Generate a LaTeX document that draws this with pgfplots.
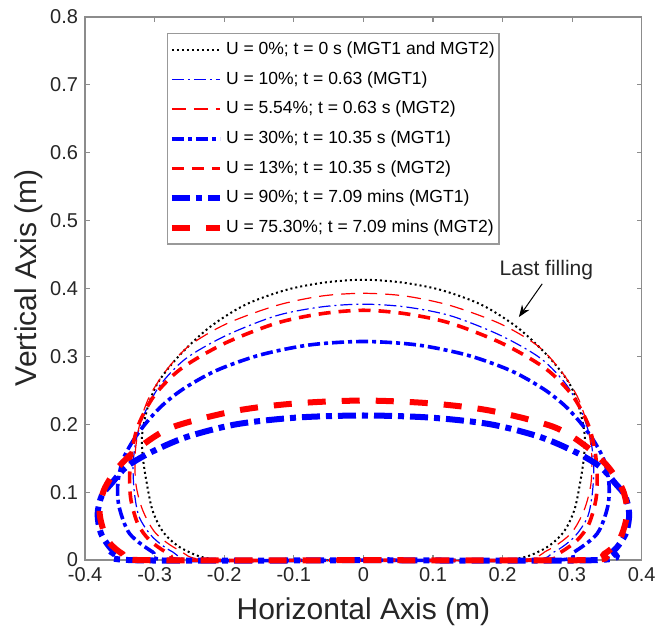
\documentclass[border=0pt]{standalone}
\usepackage{fontspec}
\setmainfont{Liberation Sans}
\usepackage{pgfplots}
\pgfplotsset{compat=1.18}
\usetikzlibrary{arrows.meta}

\begin{document}
\begin{tikzpicture}
\begin{axis}[
    scale only axis,
    width=278pt, height=271.25pt,
    xmin=-0.4, xmax=0.4, ymin=0, ymax=0.8,
    clip=false,
    xtick={-0.4,-0.3,-0.2,-0.1,0,0.1,0.2,0.3,0.4},
    ytick={0,0.1,0.2,0.3,0.4,0.5,0.6,0.7,0.8},
    tick align=inside,
    major tick length=2.5pt,
    axis line style={black!45, line width=0.7pt},
    every tick/.style={black!45, line width=0.6pt},
    tick label style={font=\fontsize{10}{12}\selectfont, text=black!85},
    /pgf/number format/assume math mode=true,
    xlabel={Horizontal Axis (m)},
    ylabel={Vertical Axis (m)},
    label style={font=\fontsize{15}{18}\selectfont, text=black!85},
    x label style={at={(axis description cs:0.5,0)}, anchor=center, yshift=-26pt},
    y label style={at={(axis description cs:-0.101,0.52)}, anchor=center},
    legend style={at={(0.446,0.97)}, anchor=north, draw=none, name=leg,
        font=\fontsize{8.75}{10}\selectfont, row sep=3pt,
        inner xsep=0.5pt, inner ysep=2pt, nodes={inner xsep=1.5pt}},
    legend cell align=left,
    legend image code/.code={\draw[#1] (-1pt,0pt) -- (23pt,0pt);},
]
% U = 0%
\addplot[black, line width=1pt, dash pattern=on 1pt off 1.5pt, smooth] coordinates {
(0,0) (0.200,0) (0.255,0.014) (0.286,0.039) (0.303,0.073) (0.312,0.117) (0.317,0.152) (0.318,0.185) (0.310,0.225) (0.295,0.262) (0.264,0.302) (0.221,0.343) (0.170,0.376) (0.111,0.398) (0.055,0.409) (0,0.413)
(-0.055,0.409) (-0.111,0.398) (-0.170,0.376) (-0.221,0.343) (-0.264,0.302) (-0.295,0.262) (-0.310,0.225) (-0.318,0.185) (-0.317,0.152) (-0.312,0.117) (-0.303,0.073) (-0.286,0.039) (-0.255,0.014) (-0.200,0) (0,0)
};
\addlegendentry{U = 0\%; t = 0 s (MGT1 and MGT2)}
% U = 10% MGT1
\addplot[blue, line width=0.6pt, dash pattern=on 6pt off 2pt on 1pt off 2pt, smooth] coordinates {
(0,0) (0.235,0) (0.274,0.012) (0.303,0.034) (0.322,0.063) (0.329,0.098) (0.331,0.137) (0.327,0.175) (0.315,0.215) (0.292,0.258) (0.255,0.297) (0.197,0.331) (0.125,0.360) (0.060,0.373) (0,0.377)
(-0.060,0.373) (-0.125,0.360) (-0.197,0.331) (-0.255,0.297) (-0.292,0.258) (-0.315,0.215) (-0.327,0.175) (-0.331,0.137) (-0.329,0.098) (-0.322,0.063) (-0.303,0.034) (-0.274,0.012) (-0.235,0) (0,0)
};
\addlegendentry{U = 10\%; t = 0.63 (MGT1)}
% U = 5.54% MGT2
\addplot[red, line width=0.6pt, dash pattern=on 7pt off 4pt, smooth] coordinates {
(0,0) (0.220,0) (0.264,0.014) (0.298,0.039) (0.317,0.073) (0.327,0.112) (0.328,0.157) (0.322,0.198) (0.308,0.240) (0.283,0.280) (0.250,0.316) (0.197,0.348) (0.125,0.375) (0.060,0.389) (0,0.393)
(-0.060,0.389) (-0.125,0.375) (-0.197,0.348) (-0.250,0.316) (-0.283,0.280) (-0.308,0.240) (-0.322,0.198) (-0.328,0.157) (-0.327,0.112) (-0.317,0.073) (-0.298,0.039) (-0.264,0.014) (-0.220,0) (0,0)
};
\addlegendentry{U = 5.54\%; t = 0.63 s (MGT2)}
% U = 30% MGT1
\addplot[blue, line width=1.8pt, dash pattern=on 6pt off 2pt on 2pt off 2pt, smooth] coordinates {
(0,0) (0.275,0) (0.303,0.012) (0.336,0.039) (0.351,0.078) (0.353,0.112) (0.346,0.147) (0.331,0.176) (0.314,0.200) (0.290,0.227) (0.259,0.252) (0.212,0.279) (0.149,0.302) (0.077,0.317) (0,0.322)
(-0.077,0.317) (-0.149,0.302) (-0.212,0.279) (-0.259,0.252) (-0.290,0.227) (-0.314,0.200) (-0.331,0.176) (-0.346,0.147) (-0.353,0.112) (-0.351,0.078) (-0.336,0.039) (-0.303,0.012) (-0.275,0) (0,0)
};
\addlegendentry{U = 30\%; t = 10.35 s (MGT1)}
% U = 13% MGT2
\addplot[red, line width=1.8pt, dash pattern=on 6pt off 4pt, smooth] coordinates {
(0,0) (0.250,0) (0.279,0.009) (0.307,0.029) (0.324,0.053) (0.334,0.088) (0.336,0.122) (0.333,0.160) (0.323,0.200) (0.300,0.243) (0.262,0.282) (0.200,0.319) (0.125,0.349) (0.060,0.363) (0,0.368)
(-0.060,0.363) (-0.125,0.349) (-0.200,0.319) (-0.262,0.282) (-0.300,0.243) (-0.323,0.200) (-0.333,0.160) (-0.336,0.122) (-0.334,0.088) (-0.324,0.053) (-0.307,0.029) (-0.279,0.009) (-0.250,0) (0,0)
};
\addlegendentry{U = 13\%; t = 10.35 s (MGT2)}
% U = 90% MGT1
\addplot[blue, line width=3pt, dash pattern=on 9pt off 3pt on 3pt off 3pt, smooth] coordinates {
(0,0) (0.335,0) (0.360,0.014) (0.377,0.039) (0.382,0.068) (0.376,0.095) (0.362,0.113) (0.341,0.137) (0.307,0.158) (0.255,0.181) (0.183,0.200) (0.095,0.210) (0,0.213)
(-0.095,0.210) (-0.183,0.200) (-0.255,0.181) (-0.307,0.158) (-0.341,0.137) (-0.362,0.113) (-0.376,0.095) (-0.382,0.068) (-0.377,0.039) (-0.360,0.014) (-0.335,0) (0,0)
};
\addlegendentry{U = 90\%; t = 7.09 mins (MGT1)}
% U = 75.30% MGT2
\addplot[red, line width=3pt, dash pattern=on 9pt off 8pt, smooth] coordinates {
(0,0) (0.320,0) (0.346,0.009) (0.368,0.030) (0.379,0.068) (0.373,0.103) (0.352,0.137) (0.322,0.166) (0.274,0.196) (0.183,0.220) (0.095,0.231) (0,0.235)
(-0.095,0.231) (-0.183,0.220) (-0.274,0.196) (-0.322,0.166) (-0.352,0.137) (-0.373,0.103) (-0.379,0.068) (-0.368,0.030) (-0.346,0.009) (-0.320,0) (0,0)
};
\addlegendentry{U = 75.30\%; t = 7.09 mins (MGT2)}

\node[font=\fontsize{10.5}{12}\selectfont, text=black!85] at (axis cs:0.263,0.427) {Last filling};
\draw[-{Stealth[length=6pt,width=4.5pt]}, line width=0.5pt] (axis cs:0.257,0.407) -- (axis cs:0.2235,0.358);
\end{axis}
\draw[black!40, line width=0.7pt] (leg.south west) rectangle (leg.north east);
\pgfresetboundingbox
\path[use as bounding box] ([shift={(-42.5pt,-35.75pt)}]current axis.south west) rectangle ([shift={(7.65pt,8.5pt)}]current axis.north east);
\end{tikzpicture}
\end{document}
